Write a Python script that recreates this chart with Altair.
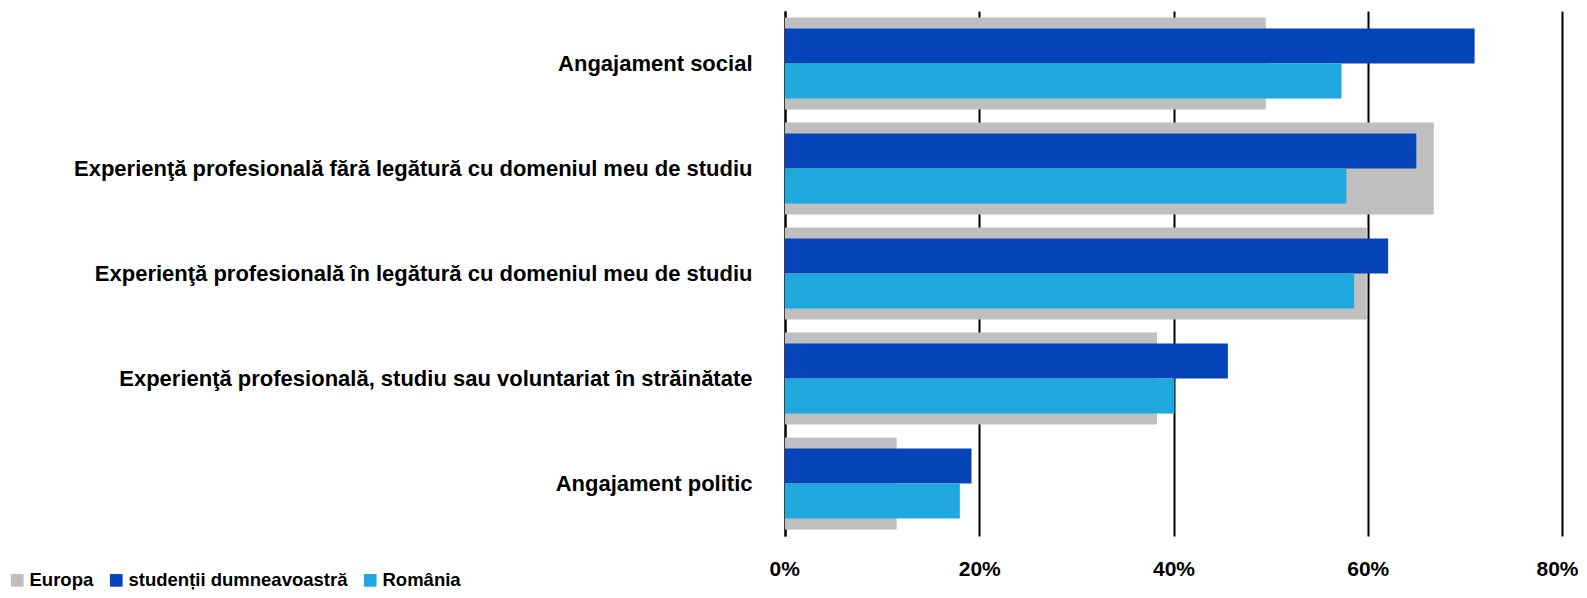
import altair as alt
import pandas as pd

categories = [
    "Angajament social",
    "Experienţă profesională fără legătură cu domeniul meu de studiu",
    "Experienţă profesională în legătură cu domeniul meu de studiu",
    "Experienţă profesională, studiu sau voluntariat în străinătate",
    "Angajament politic",
]
series_names = ["Europa", "studenții dumneavoastră", "România"]
europa = [0.495, 0.668, 0.599, 0.383, 0.115]
studenti = [0.710, 0.650, 0.621, 0.456, 0.192]
romania = [0.573, 0.578, 0.586, 0.401, 0.180]
colors = ["#BFBFBF", "#0543B9", "#1FA8DE"]
ticks = [0, 0.2, 0.4, 0.6, 0.8]

rows = []
for s, vals in zip(series_names, [europa, studenti, romania]):
    for c, v in zip(categories, vals):
        rows.append({"cat": c, "series": s, "value": v})
df = pd.DataFrame(rows)

FONT = "Liberation Sans Narrow, Arial Narrow, Liberation Sans"

y_enc = alt.Y("cat:N", sort=categories, title=None,
              scale=alt.Scale(paddingInner=0, paddingOuter=0),
              axis=alt.Axis(labelFont=FONT, labelFontSize=22, labelFontWeight="bold",
                            labelColor="black", ticks=False, labelPadding=33,
                            domainColor="black", domainWidth=2, labelLimit=900))
x_enc = alt.X("value:Q", title=None,
              scale=alt.Scale(domain=[0, 0.8], nice=False),
              axis=alt.Axis(values=ticks, format=".0%", labelFont=FONT, labelFontSize=21,
                            labelFontWeight="bold", labelColor="black", ticks=False,
                            domain=False, grid=True, gridColor="black", gridWidth=2,
                            gridOpacity=1, labelPadding=22, labelFlush=True,
                            labelFlushOffset=16))
color_enc = alt.Color("series:N", title=None,
                      scale=alt.Scale(domain=series_names, range=colors),
                      legend=alt.Legend(orient="none", legendX=-777, legendY=560,
                                        direction="horizontal", symbolType="square",
                                        symbolSize=160, symbolStrokeWidth=0,
                                        labelFont=FONT, labelFontSize=18.5,
                                        labelFontWeight="bold", labelColor="black",
                                        labelOffset=3, columnPadding=13, labelLimit=400,
                                        padding=0))

base = alt.Chart(df)
gray = base.transform_filter(alt.datum.series == "Europa").mark_bar(size=92).encode(
    y=y_enc, x=x_enc, color=color_enc)
blue = base.transform_filter(alt.datum.series != "Europa").mark_bar().encode(
    y=y_enc, x=x_enc, color=color_enc,
    yOffset=alt.YOffset("series:N", sort=series_names[1:],
                        scale=alt.Scale(paddingInner=0, paddingOuter=0.5)))

chart = alt.layer(gray, blue).properties(
    width=777, height=525,
    autosize=alt.AutoSizeParams(type="none"),
    padding={"left": 777, "top": 3, "right": 16, "bottom": 54},
).configure_view(stroke=None)

chart.save("out.html", embed_options={"renderer": "svg", "actions": False})
